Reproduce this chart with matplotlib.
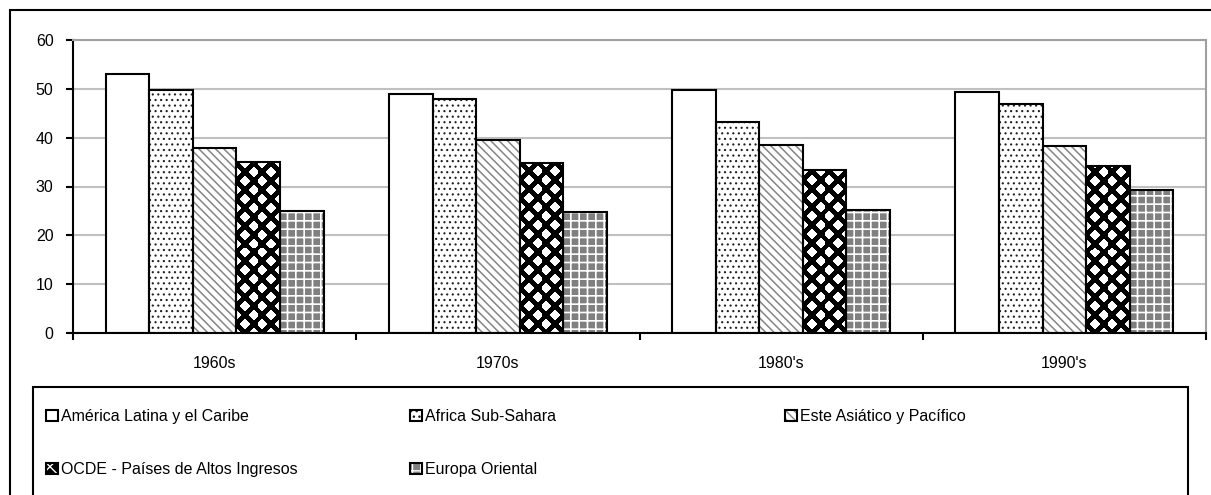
import numpy as np
import matplotlib
matplotlib.use("Agg")
import matplotlib.pyplot as plt
from matplotlib.patches import Rectangle
from matplotlib.legend_handler import HandlerTuple

plt.rcParams['font.family'] = ['Liberation Sans', 'DejaVu Sans']
plt.rcParams['font.size'] = 11.5

# data
decades = ["1960s", "1970s", "1980's", "1990's"]
series = ["América Latina y el Caribe", "Africa Sub-Sahara", "Este Asiático y Pacífico",
          "OCDE - Países de Altos Ingresos", "Europa Oriental"]
america_latina = [53.0, 48.9, 49.7, 49.3]
africa_sub = [49.7, 48.0, 43.2, 46.9]
este_asiatico = [37.8, 39.5, 38.6, 38.2]
ocde = [35.0, 34.9, 33.4, 34.1]
europa_oriental = [25.0, 24.7, 25.1, 29.2]
values = [america_latina, africa_sub, este_asiatico, ocde, europa_oriental]

# (face, hatch, hatch colour, hatch linewidth); None face = diamond texture
styles = [
    ("white", None, "black", 1.0),
    ("white", "...", "#202020", 0.8),
    ("white", "\\\\\\\\", "#858585", 1.1),
    (None, "xx", "white", 1.5),
    ("#808080", "++", "white", 1.2),
]

W, H = 1211, 495
fig = plt.figure(figsize=(W / 100, H / 100), dpi=100)
ax = fig.add_axes([73 / W, 1 - 333 / H, (1206 - 73) / W, (333 - 40) / H])
ax.set_xlim(0, len(decades))
ax.set_ylim(0, 60)


def diamond_texture(wpx, hpx, period=18, r=6.0):
    # black background with white diamonds on an offset grid
    yy, xx = np.mgrid[0:hpx, 0:wpx] + 0.5
    u = np.mod(xx + yy, period)
    v = np.mod(xx - yy, period)
    du = np.minimum(u, period - u)
    dv = np.minimum(v, period - v)
    return (np.maximum(du, dv) < r).astype(float)


n = len(series)
bw = 1 / 6.5
xc = np.arange(len(decades)) + 0.5
handles = []
for j in range(n):
    face, hatch, hcol, hlw = styles[j]
    pos = xc + (j - (n - 1) / 2) * bw
    if face is None:
        fill = ax.bar(pos, values[j], bw, color="black", linewidth=0, zorder=2)
        for p in fill:
            x0, y0 = p.get_x(), p.get_y()
            x1, y1 = x0 + p.get_width(), y0 + p.get_height()
            (px0, py0), (px1, py1) = ax.transData.transform([(x0, y0), (x1, y1)])
            tex = diamond_texture(int(round(px1 - px0)) + 1, int(round(py1 - py0)) + 1)
            ax.imshow(tex, cmap="gray", vmin=0, vmax=1, extent=(x0, x1, y0, y1),
                      origin="lower", aspect="auto", interpolation="nearest",
                      clip_path=p, zorder=2.5)
        with plt.rc_context({'hatch.linewidth': hlw}):
            proxy = Rectangle((0, 0), 1, 1, facecolor="black", hatch=hatch,
                              edgecolor=hcol, linewidth=0)
        if hasattr(proxy, "set_hatch_linewidth"):
            proxy.set_hatch_linewidth(hlw)
        leg_fill = proxy
    else:
        with plt.rc_context({'hatch.linewidth': hlw}):
            fill = ax.bar(pos, values[j], bw, color=face, hatch=hatch,
                          edgecolor=hcol, linewidth=0, zorder=2)
        for p in fill:
            if hasattr(p, "set_hatch_linewidth"):
                p.set_hatch_linewidth(hlw)
        leg_fill = fill[0]
    outline = ax.bar(pos, values[j], bw, fill=False, edgecolor="black",
                     linewidth=1.5, zorder=3)
    handles.append((leg_fill, outline[0]))

ax.set_xlim(0, len(decades))
ax.set_ylim(0, 60)
ax.set_yticks(np.arange(0, 61, 10))
ax.yaxis.grid(True, color="#c0c0c0", linewidth=1.5, zorder=0)
ax.set_axisbelow(True)
ax.set_xticks(np.arange(len(decades) + 1))
ax.set_xticklabels([])
ax.set_xticks(xc, minor=True)
ax.set_xticklabels(decades, minor=True)
ax.tick_params(axis="x", which="major", direction="out", length=5, width=1.5)
ax.tick_params(axis="x", which="minor", length=0, pad=16.5)
ax.tick_params(axis="y", direction="out", length=5, width=1.5, pad=9)
for s in ["left", "bottom"]:
    ax.spines[s].set_linewidth(1.5)
    ax.spines[s].set_color("black")
for s in ["top", "right"]:
    ax.spines[s].set_linewidth(1.5)
    ax.spines[s].set_color("#a0a0a0")

# outer frame and legend box
fig.patches.append(Rectangle((10 / W, -0.1), 1.2, 1 - 10 / H + 0.1, transform=fig.transFigure,
                             fill=False, edgecolor="black", linewidth=1.5))
fig.patches.append(Rectangle((33 / W, -0.1), (1188 - 33) / W, 1 - 387 / H + 0.1,
                             transform=fig.transFigure, fill=False, edgecolor="black",
                             linewidth=1.5))

cols = [[0, 3], [1, 4], [2]]
col_x = [46, 410, 785]
for c, idx in enumerate(cols):
    fig.legend([handles[i] for i in idx], [series[i] for i in idx],
               loc="upper left", bbox_to_anchor=(col_x[c] / W, 1 - 409 / H),
               frameon=False, handlelength=0.72, handleheight=0.72,
               handletextpad=0.2, labelspacing=2.4, borderpad=0, borderaxespad=0,
               handler_map={tuple: HandlerTuple(ndivide=1, pad=0)})

fig.savefig("out.png", dpi=100)
